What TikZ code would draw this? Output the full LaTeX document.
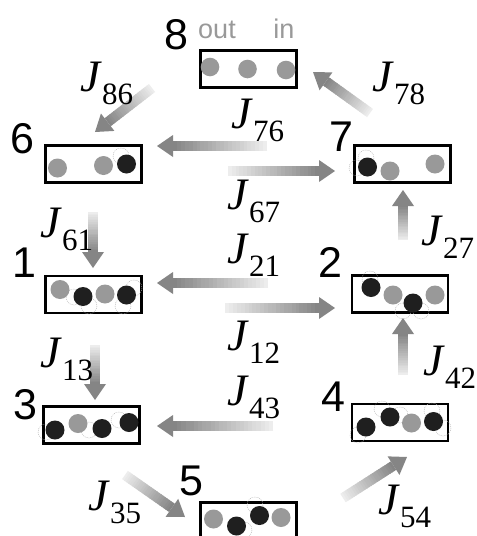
\documentclass[tikz,border=0pt]{standalone}
\usepackage{fontspec}
\setmainfont{Liberation Serif}
\newfontfamily\sansf{Liberation Sans}
\usetikzlibrary{calc}
\tikzset{
  statebox/.style={draw=black, line width=2.8pt, minimum width=96pt, minimum height=37pt, inner sep=0pt},
  statenum/.style={font=\sansf\fontsize{43}{43}\selectfont, inner sep=0pt},
  fluxlab/.style={anchor=base west, inner sep=0pt},
  gatelab/.style={font=\sansf\fontsize{27}{27}\selectfont, text=black!40, inner sep=0pt, anchor=base},
  greyion/.style={fill=black!40},
  darkion/.style={fill=black!88},
  halo/.style={draw=black!30, line width=0.4pt, dash pattern=on 1pt off 1pt}
}
\newcommand\Jlab[1]{{\fontsize{45}{45}\selectfont\itshape J}\kern2pt\raisebox{-13pt}{\fontsize{31}{31}\selectfont #1}}
\newcommand\fluxarrow[2]{%
  \coordinate (hb) at ($(#2)!16pt!(#1)$);
  \foreach \i in {1,...,24}{%
    \pgfmathtruncatemacro\shd{6+42*\i/24}%
    \draw[line width=10pt, draw=black!\shd] ($(#1)!{(\i-1)/24}!(hb)$) -- ($(#1)!{min(1,(\i+0.4)/24)}!(hb)$);
  }
  \fill[black!48] (#2) -- ($(hb)!11pt!90:(#2)$) -- ($(hb)!11pt!-90:(#2)$) -- cycle;
}
\begin{document}
\begin{tikzpicture}[x=1pt,y=-1pt]
\clip (0,0) rectangle (477,536);
\fill[white] (0,0) rectangle (477,536);

% state boxes
\node[statebox] (b8) at (248.5,69) {};
\node[statebox] (b6) at (93.5,164) {};
\node[statebox] (b7) at (402.5,164) {};
\node[statebox] (b1) at (93.5,294.5) {};
\node[statebox] (b2) at (400,294) {};
\node[statebox] (b3) at (91.5,425) {};
\node[statebox] (b4) at (400,422.5) {};
\node[statebox] (b5) at (248.5,521) {};

% state numbers
\node[statenum] (n8) at (176,35) {8};
\node[statenum] (n6) at (22,139) {6};
\node[statenum] (n7) at (341,137) {7};
\node[statenum] (n1) at (24,263) {1};
\node[statenum] (n2) at (330,262) {2};
\node[statenum] (n3) at (25,405) {3};
\node[statenum] (n4) at (333,397) {4};
\node[statenum] (n5) at (191,481) {5};
\node[gatelab] (gout) at (217,38) {out};
\node[gatelab] (gin) at (284,38) {in};

% ions
\foreach \p in {(210,67),(247.5,69),(286,70)} \fill[greyion] \p circle (9.3);
% box 6
\fill[greyion] (57.5,168) circle (9.5);
\fill[greyion] (103.5,165.5) circle (9.5);
\draw[halo] (121,156) circle (8);
\fill[darkion] (126.5,164) circle (9.5);
% box 7
\draw[halo] (366,158) circle (8);
\draw[halo] (357,168) circle (8);
\fill[darkion] (367.5,167) circle (9.5);
\fill[greyion] (390,171) circle (9.5);
\fill[greyion] (435,164) circle (9.5);
% box 1
\draw[halo] (74,297) circle (8);
\draw[halo] (89,306) circle (8);
\draw[halo] (134,288) circle (8);
\draw[halo] (123,306) circle (8);
\fill[greyion] (60,289.5) circle (9.5);
\fill[darkion] (83,296.5) circle (9.5);
\fill[greyion] (105,294) circle (9.5);
\fill[darkion] (126.5,295) circle (9.5);
% box 2
\draw[halo] (370,279) circle (8);
\draw[halo] (403,311) circle (8);
\draw[halo] (421,311) circle (8);
\fill[darkion] (371,287.5) circle (9.5);
\fill[greyion] (393,295) circle (9.5);
\fill[darkion] (413,303) circle (9.5);
\fill[greyion] (435,295) circle (9.5);
% box 4
\draw[halo] (358,435) circle (8);
\draw[halo] (382,409) circle (8);
\draw[halo] (400,415) circle (8);
\draw[halo] (432,411) circle (8);
\draw[halo] (443,428) circle (8);
\fill[darkion] (366,427) circle (9.5);
\fill[darkion] (390,417) circle (9.5);
\fill[greyion] (411.5,423) circle (9.5);
\fill[darkion] (433.5,421.5) circle (9.5);
% box 3
\draw[halo] (46,432) circle (8);
\draw[halo] (89,430) circle (8);
\draw[halo] (119,420) circle (8);
\fill[darkion] (55,430) circle (9.5);
\fill[greyion] (78,423.5) circle (9.5);
\fill[darkion] (102,428.5) circle (9.5);
\fill[darkion] (129,422.5) circle (9.5);
% box 5
\draw[halo] (244,530) circle (8);
\draw[halo] (255,505) circle (8);
\fill[greyion] (213.5,519) circle (9.5);
\fill[darkion] (236.5,526) circle (9.5);
\fill[darkion] (259.5,515.5) circle (9.5);
\fill[greyion] (281,517.5) circle (9.5);

% flux arrow end points
\coordinate (s86) at (152,88);  \coordinate (e86) at (95,132);
\coordinate (s76) at (267,146); \coordinate (e76) at (157,146);
\coordinate (s67) at (228,171); \coordinate (e67) at (335,171);
\coordinate (s78) at (370,113); \coordinate (e78) at (313,72);
\coordinate (s61) at (93,212);  \coordinate (e61) at (93,268);
\coordinate (s27) at (403,240); \coordinate (e27) at (403,190);
\coordinate (s21) at (268,283); \coordinate (e21) at (157,283);
\coordinate (s12) at (225,308); \coordinate (e12) at (335,308);
\coordinate (s13) at (95,345);  \coordinate (e13) at (95,400);
\coordinate (s42) at (403,375); \coordinate (e42) at (403,318);
\coordinate (s43) at (273,426); \coordinate (e43) at (157,426);
\coordinate (s35) at (125,475); \coordinate (e35) at (185,517);
\coordinate (s54) at (343,498); \coordinate (e54) at (407,457);

\fluxarrow{s86}{e86}
\fluxarrow{s76}{e76}
\fluxarrow{s67}{e67}
\fluxarrow{s78}{e78}
\fluxarrow{s61}{e61}
\fluxarrow{s27}{e27}
\fluxarrow{s21}{e21}
\fluxarrow{s12}{e12}
\fluxarrow{s13}{e13}
\fluxarrow{s42}{e42}
\fluxarrow{s43}{e43}
\fluxarrow{s35}{e35}
\fluxarrow{s54}{e54}

% flux labels
\node[fluxlab] (l86) at (80,91) {\Jlab{86}};
\node[fluxlab] (l76) at (231,128) {\Jlab{76}};
\node[fluxlab] (l67) at (227,209) {\Jlab{67}};
\node[fluxlab] (l78) at (372,91) {\Jlab{78}};
\node[fluxlab] (l61) at (40,237) {\Jlab{61}};
\node[fluxlab] (l27) at (421,245) {\Jlab{27}};
\node[fluxlab] (l21) at (227,263) {\Jlab{21}};
\node[fluxlab] (l12) at (227,350) {\Jlab{12}};
\node[fluxlab] (l13) at (40,367) {\Jlab{13}};
\node[fluxlab] (l42) at (423,375) {\Jlab{42}};
\node[fluxlab] (l43) at (227,405) {\Jlab{43}};
\node[fluxlab] (l35) at (88,510) {\Jlab{35}};
\node[fluxlab] (l54) at (378,514) {\Jlab{54}};
\end{tikzpicture}
\end{document}
